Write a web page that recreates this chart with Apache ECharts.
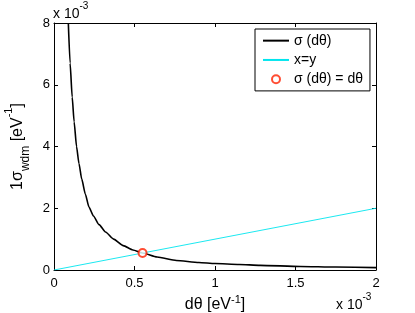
<!DOCTYPE html>
<html>
<head>
<meta charset="utf-8">
<script src="https://cdn.jsdelivr.net/npm/echarts@6/dist/echarts.min.js"></script>
<style>html,body{margin:0;padding:0;background:#fff}#c{width:415px;height:313px}</style>
</head>
<body>
<div id="c"></div>
<script>
// values in units of 1e-3
var sigmaX = [0.089, 0.1, 0.113, 0.125, 0.14, 0.155, 0.172, 0.195, 0.217, 0.245, 0.28, 0.32, 0.37, 0.43, 0.49, 0.55, 0.64, 0.76, 0.9, 1.0, 1.15, 1.28, 1.53, 1.75, 2.0];
var sigmaY = [8.0, 6.7, 5.6, 4.8, 4.0, 3.45, 2.95, 2.45, 2.04, 1.75, 1.47, 1.23, 1.0, 0.79, 0.65, 0.55, 0.42, 0.31, 0.245, 0.21, 0.18, 0.15, 0.115, 0.095, 0.077];
var lineX = [0, 2];
var lineY = [0, 2];
var crossX = [0.55];
var crossY = [0.55];
var xTicks = [0, 0.5, 1, 1.5, 2];
var yTicks = [0, 2, 4, 6, 8];

function pairs(a, b) { return a.map(function (v, i) { return [v, b[i]]; }); }

var font = 'Liberation Sans, Arial, Helvetica, sans-serif';
var chart = echarts.init(document.getElementById('c'), null, {renderer: 'canvas'});
var tickFmt = function (v) { return String(v); };
var axisCommon = {
  axisLine: {show: true, onZero: false, lineStyle: {color: '#000', width: 1}},
  axisTick: {show: true, inside: true, length: 4, lineStyle: {color: '#000'}},
  splitLine: {show: false}
};
chart.setOption({
  animation: false,
  backgroundColor: '#fff',
  textStyle: {fontFamily: font},
  grid: {left: 54, top: 23, right: 39, bottom: 43, containLabel: false, outerBoundsMode: 'none'},
  xAxis: [Object.assign({
    type: 'value', min: xTicks[0], max: xTicks[xTicks.length - 1], interval: 0.5,
    axisLabel: {color: '#000', fontSize: 13, margin: 7, formatter: tickFmt},
    name: '{n|dθ [eV}{sup|-1}{n|]}', nameLocation: 'middle', nameGap: 21,
    nameTextStyle: {color: '#000', rich: {
      n: {fontSize: 16, lineHeight: 20, color: '#000', fontFamily: font},
      sup: {fontSize: 11, lineHeight: 10, verticalAlign: 'top', color: '#000', fontFamily: font}
    }}
  }, axisCommon), Object.assign({
    type: 'value', position: 'top', min: 0, max: 2, interval: 0.5,
    axisLabel: {show: false}
  }, axisCommon)],
  yAxis: [Object.assign({
    type: 'value', min: yTicks[0], max: yTicks[yTicks.length - 1], interval: 2,
    axisLabel: {color: '#000', fontSize: 13, margin: 4, formatter: tickFmt},
    name: '{n|1σ}{sub|wdm}{n| [eV}{sup|-1}{n|]}', nameLocation: 'middle', nameGap: 17, nameRotate: 90,
    nameTextStyle: {color: '#000', rich: {
      n: {fontSize: 16, lineHeight: 28, color: '#000', fontFamily: font},
      sub: {fontSize: 12, lineHeight: 9, verticalAlign: 'bottom', color: '#000', fontFamily: font},
      sup: {fontSize: 11, lineHeight: 16, verticalAlign: 'top', color: '#000', fontFamily: font}
    }}
  }, axisCommon), Object.assign({
    type: 'value', position: 'right', min: 0, max: 8, interval: 2,
    axisLabel: {show: false}
  }, axisCommon)],
  legend: {
    orient: 'vertical', left: 255, top: 29,
    padding: [2, 7, 2, 7], itemWidth: 26, itemHeight: 8, itemGap: 0,
    backgroundColor: '#fff', borderColor: '#000', borderWidth: 1,
    textStyle: {color: '#000', fontSize: 14, lineHeight: 19.3, fontFamily: font},
    data: [
      {name: 'σ (dθ)', itemStyle: {opacity: 0}},
      {name: 'x=y', itemStyle: {opacity: 0}},
      {name: 'σ (dθ) = dθ'}
    ]
  },
  series: [{
    name: 'σ (dθ)', type: 'line', data: pairs(sigmaX, sigmaY), smooth: 0.2, smoothMonotone: 'x',
    symbol: 'none', clip: true,
    lineStyle: {color: '#000', width: 1.6}, itemStyle: {color: '#000'}, z: 2
  }, {
    name: 'x=y', type: 'line', data: pairs(lineX, lineY),
    symbol: 'none', lineStyle: {color: '#00e5ee', width: 0.9}, itemStyle: {color: '#00e5ee'}, z: 3
  }, {
    name: 'σ (dθ) = dθ', type: 'scatter', data: pairs(crossX, crossY),
    symbol: 'emptyCircle', symbolSize: 8,
    itemStyle: {color: '#ff2000', borderWidth: 1.6}, z: 4
  }],
  graphic: [{
    type: 'text', left: 53, top: 1, silent: true,
    style: {text: '{n|x 10}{sup|-3}', rich: {
      n: {fontSize: 14, lineHeight: 26, fill: '#000', fontFamily: font},
      sup: {fontSize: 10, lineHeight: 8, verticalAlign: 'top', fill: '#000', fontFamily: font}
    }}
  }, {
    type: 'text', left: 336, top: 292, silent: true,
    style: {text: '{n|x 10}{sup|-3}', rich: {
      n: {fontSize: 14, lineHeight: 26, fill: '#000', fontFamily: font},
      sup: {fontSize: 10, lineHeight: 8, verticalAlign: 'top', fill: '#000', fontFamily: font}
    }}
  }]
});
</script>
</body>
</html>
